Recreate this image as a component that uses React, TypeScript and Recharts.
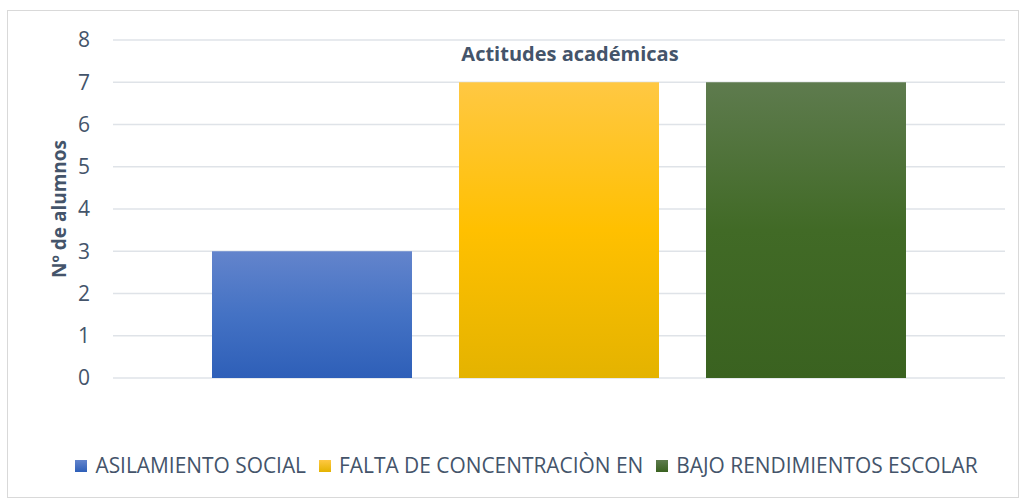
import React from 'react';
import { BarChart, Bar, XAxis, YAxis, CartesianGrid, Legend } from 'recharts';

const categories = ['Actitudes académicas'];
const seriesNames = ['ASILAMIENTO SOCIAL', 'FALTA DE CONCENTRACIÒN EN', 'BAJO RENDIMIENTOS ESCOLAR'];
const seriesValues = [3, 7, 7];
const yTicks = [0, 1, 2, 3, 4, 5, 6, 7, 8];

const gradients = [
  { id: 'gBlue', top: '#6384cc', mid: '#4472c4', bottom: '#2e5fb8' },
  { id: 'gGold', top: '#ffc843', mid: '#ffc000', bottom: '#e4b300' },
  { id: 'gGreen', top: '#5e7b4e', mid: '#416a26', bottom: '#3a6220' },
];

const data = categories.map((c) => {
  const row: Record<string, string | number> = { name: c };
  seriesNames.forEach((s, i) => {
    row[s] = seriesValues[i];
  });
  return row;
});

const font = '"Open Sans", "Noto Sans", sans-serif';
const textColor = '#44546a';

function LegendContent() {
  return (
    <div style={{ display: 'flex', justifyContent: 'center', fontFamily: font, fontSize: 20.9, color: textColor, paddingLeft: 30 }}>
      {seriesNames.map((s, i) => (
        <div key={s} style={{ display: 'flex', alignItems: 'center', marginLeft: i === 0 ? 0 : 13 }}>
          <span style={{ width: 12, height: 12, marginTop: 2, background: `linear-gradient(${gradients[i].top}, ${gradients[i].bottom})`, marginRight: 8 }} />
          <span>{s}</span>
        </div>
      ))}
    </div>
  );
}

export default function App() {
  return (
    <div style={{ position: 'absolute', left: 0, top: 0, width: 1023, height: 501, background: '#fff' }}>
      <div style={{ position: 'absolute', left: 7, top: 10, width: 1010, height: 486, border: '1px solid #d9d9d9' }} />
      <div
        style={{
          position: 'absolute',
          left: 113,
          width: 914,
          top: 40,
          textAlign: 'center',
          fontFamily: font,
          fontWeight: 700,
          fontSize: 20,
          color: textColor,
          zIndex: 2,
        }}
      >
        {categories[0]}
      </div>
      <div style={{ position: 'absolute', left: 0, top: 0 }}>
        <BarChart
          width={1023}
          height={501}
          data={data}
          margin={{ top: 40, right: 18, left: 53, bottom: 95 }}
          barCategoryGap={99}
          barGap={47}
        >
          <defs>
            {gradients.map((g) => (
              <linearGradient key={g.id} id={g.id} x1="0" y1="0" x2="0" y2="1">
                <stop offset="0%" stopColor={g.top} />
                <stop offset="50%" stopColor={g.mid} />
                <stop offset="100%" stopColor={g.bottom} />
              </linearGradient>
            ))}
          </defs>
          <CartesianGrid vertical={false} stroke="#dfe3e8" strokeWidth={1.5} />
          <XAxis dataKey="name" hide />
          <YAxis
            width={60}
            domain={[0, 8]}
            ticks={yTicks}
            interval={0}
            axisLine={false}
            tickLine={false}
            tickSize={0}
            tickMargin={23}
            tick={{ fill: textColor, fontFamily: font, fontSize: 21 }}
            label={{
              value: 'Nº de alumnos',
              angle: -90,
              position: 'insideLeft',
              offset: 6,
              style: { textAnchor: 'middle', fill: textColor, fontFamily: font, fontWeight: 700, fontSize: 19 },
            }}
          />
          {seriesNames.map((s, i) => (
            <Bar key={s} dataKey={s} fill={`url(#${gradients[i].id})`} isAnimationActive={false} />
          ))}
          <Legend
            content={<LegendContent />}
            wrapperStyle={{ position: 'absolute', left: 0, top: 451, width: 1023 }}
          />
        </BarChart>
      </div>
    </div>
  );
}
